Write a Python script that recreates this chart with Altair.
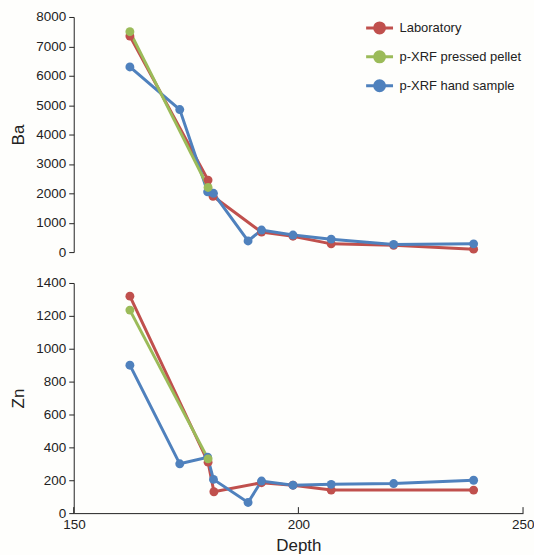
import altair as alt
import pandas as pd

series = ["Laboratory", "p-XRF pressed pellet", "p-XRF hand sample"]
colors = ["#c0504d", "#9bbb59", "#4f81bd"]

# Ba panel
lab_depth_ba = [162.5, 179.9, 181.0, 191.8, 198.8, 207.3, 221.2, 239.0]
lab_ba = [7350, 2450, 1900, 680, 540, 280, 230, 100]
pellet_depth = [162.5, 179.9]
pellet_ba = [7500, 2200]
hand_depth = [162.5, 173.6, 179.8, 181.1, 188.8, 191.8, 198.8, 207.3, 221.2, 239.0]
hand_ba = [6300, 4850, 2050, 2000, 380, 750, 580, 440, 260, 280]

# Zn panel
lab_depth_zn = [162.5, 179.9, 181.2, 191.8, 198.8, 207.3, 239.0]
lab_zn = [1320, 310, 130, 185, 170, 140, 140]
pellet_zn = [1235, 330]
hand_zn = [900, 300, 340, 205, 65, 195, 170, 175, 180, 200]

x_ticks = [150, 200, 250]
ba_ticks = [0, 1000, 2000, 3000, 4000, 5000, 6000, 7000, 8000]
zn_ticks = [0, 200, 400, 600, 800, 1000, 1200, 1400]


def frame(depths, values, name):
    return pd.DataFrame({"Depth": depths, "v": values, "series": name})


ba_df = pd.concat([
    frame(lab_depth_ba, lab_ba, series[0]),
    frame(hand_depth, hand_ba, series[2]),
    frame(pellet_depth, pellet_ba, series[1]),
])
zn_df = pd.concat([
    frame(lab_depth_zn, lab_zn, series[0]),
    frame(hand_depth, hand_zn, series[2]),
    frame(pellet_depth, pellet_zn, series[1]),
])

FONT = "Liberation Sans"
W = 451
H_TOP = 236
H_BOT = 231

legend_symbol = "M-1,0L1,0M-0.37,0A0.37,0.37,0,1,1,0.37,0A0.37,0.37,0,1,1,-0.37,0Z"

color = alt.Color(
    "series:N",
    scale=alt.Scale(domain=series, range=colors),
    sort=series,
    legend=alt.Legend(
        title=None,
        orient="none",
        legendX=292,
        legendY=-4,
        symbolType=legend_symbol,
        symbolSize=729,
        symbolStrokeWidth=3,
        labelFont=FONT,
        labelFontSize=13,
        labelColor="#222222",
        labelOffset=5,
        rowPadding=3,
        padding=0,
    ),
)

x_scale = alt.Scale(domain=[150, 250], nice=False, zero=False)


def yaxis(title, ticks):
    return alt.Axis(
        title=title,
        values=ticks,
        format="d",
        grid=False,
        tickSize=5,
        labelFont=FONT,
        labelFontSize=13.5,
        labelColor="#222222",
        labelPadding=3,
        titleFont=FONT,
        titleFontSize=17,
        titleFontWeight="normal",
        titleColor="#222222",
        titlePadding=8,
        domainColor="#222222",
        tickColor="#222222",
    )


top = alt.Chart(ba_df).mark_line(
    strokeWidth=3,
    point=alt.OverlayMarkDef(filled=True, size=80, opacity=1),
).encode(
    x=alt.X("Depth:Q", scale=x_scale, axis=None),
    y=alt.Y("v:Q", scale=alt.Scale(domain=[0, 8000], nice=False), axis=yaxis("Ba", ba_ticks)),
    color=color,
).properties(width=W, height=H_TOP)

bot_lines = alt.Chart(zn_df).mark_line(
    strokeWidth=3,
    point=alt.OverlayMarkDef(filled=True, size=80, opacity=1),
).encode(
    x=alt.X(
        "Depth:Q",
        scale=x_scale,
        axis=alt.Axis(
            title="Depth",
            values=x_ticks,
            format="d",
            grid=False,
            ticks=False,
            labelFont=FONT,
            labelFontSize=13.5,
            labelColor="#222222",
            labelPadding=4.5,
            labelFlush=True,
            labelFlushOffset=11,
            titleFont=FONT,
            titleFontSize=17,
            titleFontWeight="normal",
            titleColor="#222222",
            titlePadding=7,
            domainColor="#222222",
        ),
    ),
    y=alt.Y("v:Q", scale=alt.Scale(domain=[0, 1400], nice=False), axis=yaxis("Zn", zn_ticks)),
    color=color,
)

tick_df = pd.DataFrame({"Depth": x_ticks})
bot_ticks = alt.Chart(tick_df).mark_rule(color="#222222", strokeWidth=1).encode(
    x=alt.X("Depth:Q", scale=x_scale),
    y=alt.value(H_BOT),
    y2=alt.value(H_BOT - 6),
)

bot = alt.layer(bot_lines, bot_ticks).properties(width=W, height=H_BOT)

chart = alt.vconcat(top, bot, spacing=31, bounds="flush").properties(
    padding={"left": 9, "top": 9, "right": 0, "bottom": 0},
    background="#fefefc",
).configure_view(stroke=None)

chart.save("out.html", embed_options={"renderer": "svg", "actions": False})
